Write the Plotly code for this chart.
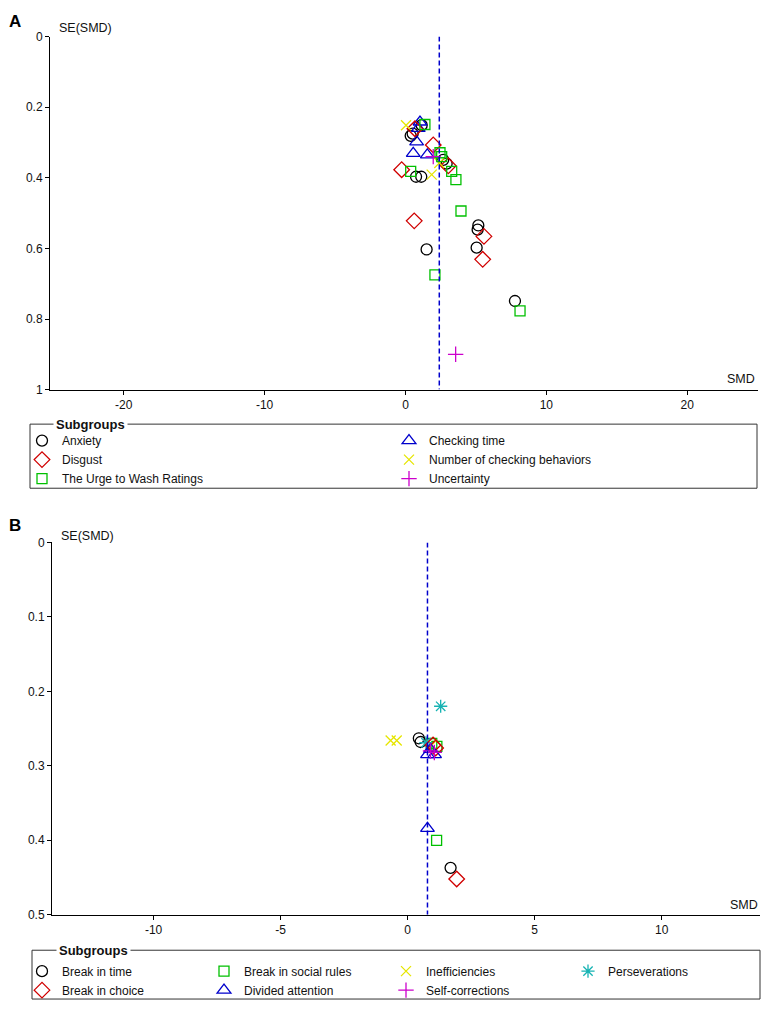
import plotly.graph_objects as go

# ---------------- Panel A data ----------------
a_summary = 2.4
anx_x = [1.15, 0.51, 0.37, 2.68, 2.92, 0.75, 1.12, 5.17, 5.12, 1.50, 5.05, 7.77]
anx_se = [0.251, 0.275, 0.281, 0.349, 0.360, 0.397, 0.397, 0.535, 0.547, 0.603, 0.598, 0.749]
dis_x = [0.67, 1.97, 3.04, -0.27, 0.62, 5.57, 5.48]
dis_se = [0.261, 0.307, 0.366, 0.377, 0.522, 0.566, 0.631]
urge_x = [1.38, 2.45, 2.57, 0.37, 3.28, 3.58, 3.94, 2.09, 8.13]
urge_se = [0.249, 0.329, 0.340, 0.382, 0.382, 0.405, 0.494, 0.675, 0.777]
chk_x = [1.03, 0.91, 0.79, 0.55, 1.55]
chk_se = [0.242, 0.260, 0.298, 0.331, 0.335]
num_x = [0.04, 2.40, 1.86]
num_se = [0.251, 0.358, 0.391]
unc_x = [1.97, 3.56]
unc_se = [0.340, 0.900]

a_xticks = [-20, -10, 0, 10, 20]
a_xticktext = ["-20", "-10", "0", "10", "20"]
a_yticks = [0, 0.2, 0.4, 0.6, 0.8, 1]
a_yticktext = ["0", "0.2", "0.4", "0.6", "0.8", "1"]

# ---------------- Panel B data ----------------
b_summary = 0.78
bt_x = [0.44, 0.51, 1.69]
bt_se = [0.263, 0.268, 0.437]
bc_x = [1.00, 1.10, 1.93]
bc_se = [0.272, 0.276, 0.452]
bs_x = [0.95, 1.15, 1.14]
bs_se = [0.270, 0.274, 0.400]
da_x = [0.78, 1.06, 0.90, 0.78]
da_se = [0.285, 0.285, 0.278, 0.384]
ine_x = [-0.67, -0.43, 0.95]
ine_se = [0.266, 0.266, 0.272]
per_x = [1.30, 0.72]
per_se = [0.220, 0.269]
sc_x = [0.90, 1.05]
sc_se = [0.280, 0.282]

b_xticks = [-10, -5, 0, 5, 10]
b_xticktext = ["-10", "-5", "0", "5", "10"]
b_yticks = [0, 0.1, 0.2, 0.3, 0.4, 0.5]
b_yticktext = ["0", "0.1", "0.2", "0.3", "0.4", "0.5"]

# ---------------- styles ----------------
BLACK = "#000000"
RED = "#d00000"
GREEN = "#00c000"
BLUE = "#0000cc"
YELLOW = "#e6e600"
MAGENTA = "#cc00cc"
CYAN = "#17b3b3"
FONT = "Liberation Sans, Arial, sans-serif"

W, H = 765, 1009


def px_x(p):
    return p / W


def px_y(p):
    return 1 - p / H


fig = go.Figure()


def add(x, y, name, symbol, color, size, xa, ya, legend):
    fig.add_trace(go.Scatter(
        x=x, y=y, mode="markers", name=name,
        marker=dict(symbol=symbol, size=size, color=color,
                    line=dict(color=color, width=1.3)),
        xaxis=xa, yaxis=ya, legend=legend, showlegend=True,
        hoverinfo="x+y"))


# Panel A traces (ordered row-wise for legend)
add(anx_x, anx_se, "Anxiety", "circle-open", BLACK, 11, "x", "y", "legend")
add(chk_x, chk_se, "Checking time", "triangle-up-open", BLUE, 12, "x", "y", "legend")
add(dis_x, dis_se, "Disgust", "diamond-open", RED, 12, "x", "y", "legend")
add(num_x, num_se, "Number of checking behaviors", "x-thin-open", YELLOW, 10, "x", "y", "legend")
add(urge_x, urge_se, "The Urge to Wash Ratings", "square-open", GREEN, 10, "x", "y", "legend")
add(unc_x, unc_se, "Uncertainty", "cross-thin-open", MAGENTA, 11, "x", "y", "legend")

# Panel B traces
add(bt_x, bt_se, "Break in time", "circle-open", BLACK, 11, "x2", "y2", "legend2")
add(bs_x, bs_se, "Break in social rules", "square-open", GREEN, 10, "x2", "y2", "legend2")
add(ine_x, ine_se, "Inefficiencies", "x-thin-open", YELLOW, 10, "x2", "y2", "legend2")
add(per_x, per_se, "Perseverations", "asterisk-open", CYAN, 11, "x2", "y2", "legend2")
add(bc_x, bc_se, "Break in choice", "diamond-open", RED, 12, "x2", "y2", "legend2")
add(da_x, da_se, "Divided attention", "triangle-up-open", BLUE, 12, "x2", "y2", "legend2")
add(sc_x, sc_se, "Self-corrections", "cross-thin-open", MAGENTA, 11, "x2", "y2", "legend2")

axis_common = dict(showline=True, linecolor="black", linewidth=1, ticks="outside",
                   ticklen=4, tickcolor="black", showgrid=False, zeroline=False,
                   mirror=False, tickfont=dict(family=FONT, size=12, color="#111"))

fig.update_layout(
    width=W, height=H, margin=dict(l=0, r=0, t=0, b=0),
    plot_bgcolor="white", paper_bgcolor="white",
    font=dict(family=FONT, size=12, color="#111"),
    xaxis=dict(domain=[px_x(50), px_x(758)], range=[-25.23, 25.02], anchor="y",
               tickvals=a_xticks, ticktext=a_xticktext, **axis_common),
    yaxis=dict(domain=[px_y(388), px_y(30)], range=[1, 0], anchor="x",
               tickvals=a_yticks, ticktext=a_yticktext, **axis_common),
    xaxis2=dict(domain=[px_x(52), px_x(760)], range=[-14.0, 13.87], anchor="y2",
                tickvals=b_xticks, ticktext=b_xticktext, **axis_common),
    yaxis2=dict(domain=[px_y(920.5), px_y(543)], range=[0.5, 0], anchor="x2",
                tickvals=b_yticks, ticktext=b_yticktext, **axis_common),
    legend=dict(orientation="h", x=px_x(22), y=px_y(425), xanchor="left", yanchor="top",
                entrywidth=322, entrywidthmode="pixels", bgcolor="rgba(0,0,0,0)",
                font=dict(family=FONT, size=12, color="#111"), traceorder="normal"),
    legend2=dict(orientation="h", x=px_x(22), y=px_y(963), xanchor="left", yanchor="top",
                 entrywidth=137, entrywidthmode="pixels", bgcolor="rgba(0,0,0,0)",
                 font=dict(family=FONT, size=12, color="#111"), traceorder="normal"),
    showlegend=True,
)

# Summary (pooled effect) dashed lines
fig.add_shape(type="line", xref="x", yref="y", x0=a_summary, x1=a_summary, y0=0, y1=1,
              line=dict(color=BLUE, width=1.5, dash="5px,3px"))
fig.add_shape(type="line", xref="x2", yref="y2", x0=b_summary, x1=b_summary, y0=0, y1=0.5,
              line=dict(color=BLUE, width=1.5, dash="5px,3px"))

# Legend boxes
fig.add_shape(type="rect", xref="paper", yref="paper", x0=px_x(30), x1=px_x(757),
              y0=px_y(488), y1=px_y(423), line=dict(color="#333", width=1))
fig.add_shape(type="rect", xref="paper", yref="paper", x0=px_x(32), x1=px_x(760),
              y0=px_y(1006), y1=px_y(956.5), line=dict(color="#333", width=1))

ann = [
    dict(text="<b>A</b>", x=px_x(7), y=px_y(15), xanchor="left", yanchor="middle",
         font=dict(size=17, family=FONT, color="black")),
    dict(text="<b>B</b>", x=px_x(7), y=px_y(526), xanchor="left", yanchor="middle",
         font=dict(size=17, family=FONT, color="black")),
    dict(text="SE(SMD)", x=px_x(57), y=px_y(21.7), xanchor="left", yanchor="middle",
         font=dict(size=12.5, family=FONT, color="#111")),
    dict(text="SE(SMD)", x=px_x(59), y=px_y(536.7), xanchor="left", yanchor="middle",
         font=dict(size=12.5, family=FONT, color="#111")),
    dict(text="SMD", x=px_x(757), y=px_y(377), xanchor="right", yanchor="middle",
         font=dict(size=12.5, family=FONT, color="#111")),
    dict(text="SMD", x=px_x(760), y=px_y(911), xanchor="right", yanchor="middle",
         font=dict(size=12.5, family=FONT, color="#111")),
    dict(text="<b>Subgroups</b>", x=px_x(53), y=px_y(423), xanchor="left", yanchor="middle",
         bgcolor="white", borderpad=2, font=dict(size=13, family=FONT, color="#111")),
    dict(text="<b>Subgroups</b>", x=px_x(56), y=px_y(956.5), xanchor="left", yanchor="middle",
         bgcolor="white", borderpad=2, font=dict(size=13, family=FONT, color="#111")),
]
for a in ann:
    fig.add_annotation(xref="paper", yref="paper", showarrow=False, **a)

fig.write_html(
    "out.html",
    config={"displayModeBar": False},
    post_script="document.body.style.margin='0';document.documentElement.style.overflow='hidden';",
)
